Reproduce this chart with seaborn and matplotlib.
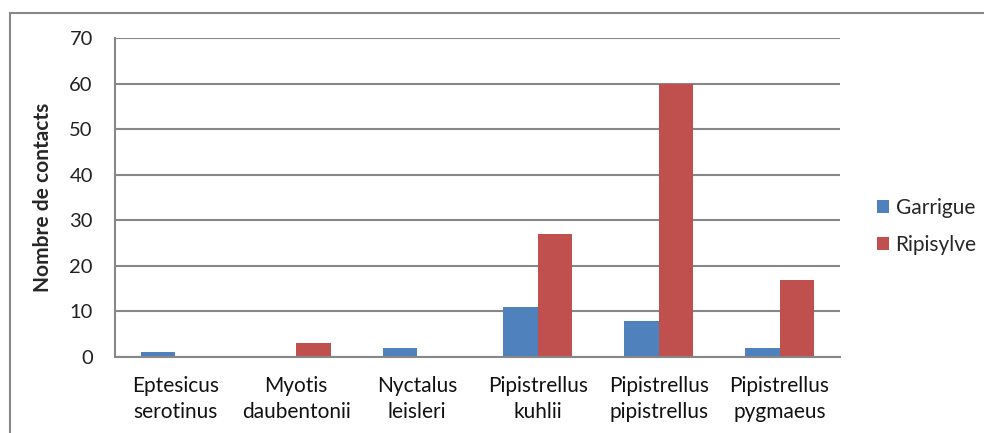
import matplotlib
matplotlib.use("Agg")
import matplotlib.pyplot as plt
import seaborn as sns
import pandas as pd
from matplotlib.patches import Rectangle

categories = ["Eptesicus\nserotinus", "Myotis\ndaubentonii", "Nyctalus\nleisleri",
              "Pipistrellus\nkuhlii", "Pipistrellus\npipistrellus", "Pipistrellus\npygmaeus"]
garrigue = [1, 0, 2, 11, 8, 2]
ripisylve = [0, 3, 0, 27, 60, 17]
series = ["Garrigue", "Ripisylve"]
colors = ["#4F81BD", "#C0504D"]
yticks = [0, 10, 20, 30, 40, 50, 60, 70]

rows = []
for c, g, r in zip(categories, garrigue, ripisylve):
    rows.append({"cat": c, "serie": series[0], "val": g})
    rows.append({"cat": c, "serie": series[1], "val": r})
df = pd.DataFrame(rows)

sns.set_style("white")
plt.rcParams['font.family'] = ['Lato', 'DejaVu Sans']

fig = plt.figure(figsize=(9.84, 4.33), dpi=100)
ax = fig.add_axes([115/984, 1-357/433, (840-115)/984, (357-38)/433])

sns.barplot(data=df, x="cat", y="val", hue="serie", palette=colors, saturation=1,
            width=0.57, ax=ax, legend=True, edgecolor="none")

grid = "#878787"
ax.set_ylim(0, 70)
ax.set_xlim(-0.5, 5.5)
ax.set_yticks(yticks)
ax.set_yticklabels([str(v) for v in yticks], fontsize=14.5, color="#222222")
ax.yaxis.grid(True, color=grid, linewidth=1.5)
ax.set_axisbelow(True)
for s in ["top", "right"]:
    ax.spines[s].set_visible(False)
for s in ["left", "bottom"]:
    ax.spines[s].set_color(grid)
    ax.spines[s].set_linewidth(1.5)
ax.tick_params(axis="y", length=8, width=1.5, color=grid, pad=8)

ax.set_xticks(range(len(categories)))
ax.set_xticklabels(categories, fontsize=15, color="#111111", linespacing=1.35)
ax.tick_params(axis="x", which="major", length=0, pad=14)
ax.set_xticks([i - 0.5 for i in range(len(categories) + 1)], minor=True)
ax.tick_params(axis="x", which="minor", length=8, width=1.5, color=grid)

ax.set_xlabel("")
ax.set_ylabel("Nombre de contacts", fontsize=15, fontweight="bold", labelpad=12)

leg = ax.legend(loc="center left", bbox_to_anchor=(1.025, 0.41), frameon=False,
                fontsize=15, handlelength=0.6, handleheight=0.6, labelspacing=0.8,
                handletextpad=0.3)

fig.patches.append(Rectangle((10/984, -0.1), 1.2, 1 - 13/433 + 0.1,
                             transform=fig.transFigure, fill=False,
                             edgecolor="#888888", linewidth=1.5))

fig.savefig("out.png", dpi=100)
